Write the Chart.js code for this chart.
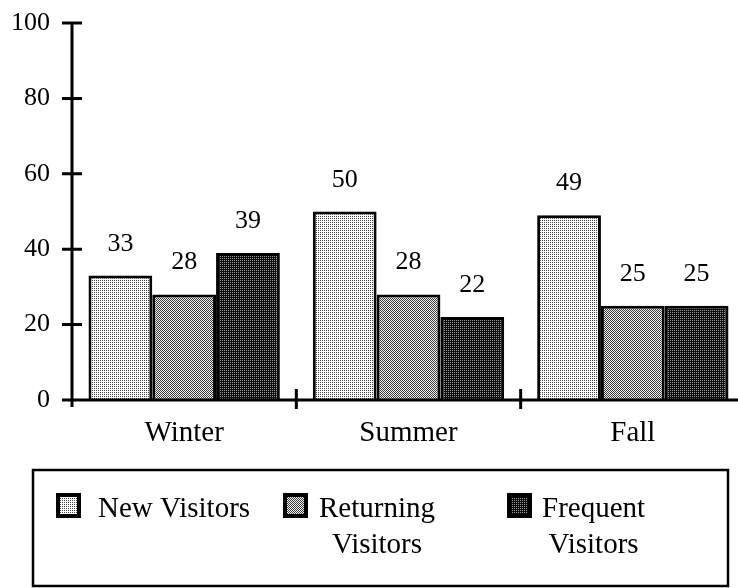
<!DOCTYPE html>
<html>
<head>
<meta charset="utf-8">
<script src="https://cdn.jsdelivr.net/npm/chart.js@4.4.1/dist/chart.umd.min.js"></script>
<style>
html,body{margin:0;padding:0;background:#fff;overflow:hidden;}
canvas{display:block;}
</style>
</head>
<body>
<canvas id="grafico" width="746" height="588"></canvas>
<script>
var estaciones = ['Winter', 'Summer', 'Fall'];
var nuevos = [33, 50, 49];
var recurrentes = [28, 28, 25];
var frecuentes = [39, 22, 25];
var ticksY = [0, 20, 40, 60, 80, 100];
var nombres = [['New Visitors'], ['Returning', 'Visitors'], ['Frequent', 'Visitors']];

var canvas = document.getElementById('grafico');
var ctx = canvas.getContext('2d');

// tramas de puntos tipo halftone
trama=(fondo, punto, puntos)=>{
	var c = document.createElement('canvas');
	c.width = 2; c.height = 2;
	var t = c.getContext('2d');
	t.fillStyle = fondo; t.fillRect(0, 0, 2, 2);
	t.fillStyle = punto;
	puntos.forEach(p => t.fillRect(p[0], p[1], 1, 1));
	return ctx.createPattern(c, 'repeat');
}
var tramas = [
	trama('#ffffff', '#444444', [[0, 0]]),
	trama('#f4f4f4', '#3a3a3a', [[0, 0], [1, 1]]),
	trama('#0c0c0c', '#9a9a9a', [[0, 0]])
];

var fuenteNum = {family: "'Liberation Serif', serif", size: 26};
var fuenteTxt = "29px 'Liberation Serif', serif";

var ejes = {
	id: 'ejes',
	afterDatasetsDraw: (chart)=>{
		var c = chart.ctx, a = chart.chartArea;
		var sx = chart.scales.x, sy = chart.scales.y;
		var y0 = sy.getPixelForValue(0);
		c.save();
		c.strokeStyle = '#000';
		c.lineWidth = 3;
		c.beginPath();
		c.moveTo(a.left, sy.getPixelForValue(100));
		c.lineTo(a.left, y0 + 7);
		c.moveTo(a.left, y0);
		c.lineTo(chart.width, y0);
		ticksY.forEach(v => {
			var y = sy.getPixelForValue(v);
			c.moveTo(a.left - 10, y);
			c.lineTo(a.left + 10, y);
		});
		for (var i = 1; i < estaciones.length; i++) {
			var bx = (sx.getPixelForValue(i - 1) + sx.getPixelForValue(i)) / 2;
			c.moveTo(bx, y0 - 11);
			c.lineTo(bx, y0 + 9);
		}
		c.stroke();

		// valores encima de las barras
		c.fillStyle = '#000';
		c.font = "26px 'Liberation Serif', serif";
		c.textAlign = 'center';
		c.textBaseline = 'alphabetic';
		chart.data.datasets.forEach((ds, d) => {
			chart.getDatasetMeta(d).data.forEach((el, i) => {
				c.fillText(ds.data[i], el.x, el.y - 25);
			});
		});
		c.restore();
	},
	afterDraw: (chart)=>{
		var c = chart.ctx;
		c.save();
		c.strokeStyle = '#000';
		c.lineWidth = 2.5;
		c.strokeRect(33, 470, 695, 116);
		var cuadros = [56, 283, 507];
		var textos = [98, 319, 542];
		c.font = fuenteTxt;
		c.fillStyle = '#000';
		c.textBaseline = 'alphabetic';
		nombres.forEach((lineas, k) => {
			c.fillStyle = tramas[k];
			c.fillRect(cuadros[k], 493, 25, 25);
			c.lineWidth = 4;
			c.strokeRect(cuadros[k] + 2, 495, 21, 21);
			c.fillStyle = '#000';
			var ancho = c.measureText(lineas[0]).width;
			var centro = textos[k] + ancho / 2;
			lineas.forEach((l, j) => {
				if (j == 0) {
					c.textAlign = 'left';
					c.fillText(l, textos[k], 517);
				} else {
					c.textAlign = 'center';
					c.fillText(l, centro, 517 + 36 * j);
				}
			});
		});
		c.restore();
	}
};

var grafico = new Chart(ctx, {
	type: 'bar',
	data: {
		labels: estaciones,
		datasets: [
			{label: 'New Visitors', data: nuevos, backgroundColor: tramas[0]},
			{label: 'Returning Visitors', data: recurrentes, backgroundColor: tramas[1]},
			{label: 'Frequent Visitors', data: frecuentes, backgroundColor: tramas[2]}
		]
	},
	options: {
		responsive: false,
		animation: false,
		layout: {padding: {top: 23, right: 1, left: 0, bottom: 0}},
		datasets: {
			bar: {categoryPercentage: 0.853, barPercentage: 1, borderColor: '#000', borderWidth: 3, borderSkipped: 'start'}
		},
		plugins: {legend: {display: false}, tooltip: {enabled: false}},
		scales: {
			x: {
				grid: {display: false, drawTicks: false},
				border: {display: false},
				ticks: {color: '#000', font: {family: "'Liberation Serif', serif", size: 29}, padding: 16},
				afterFit: (s)=>{ s.height = 188; s.paddingLeft = 0; s.paddingRight = 0; }
			},
			y: {
				min: 0, max: 100,
				grid: {display: false, drawTicks: false},
				border: {display: false},
				ticks: {stepSize: 20, color: '#000', font: fuenteNum, padding: 22},
				afterFit: (s)=>{ s.width = 72; s.paddingTop = 0; s.paddingBottom = 0; }
			}
		}
	},
	plugins: [ejes]
});
</script>
</body>
</html>
